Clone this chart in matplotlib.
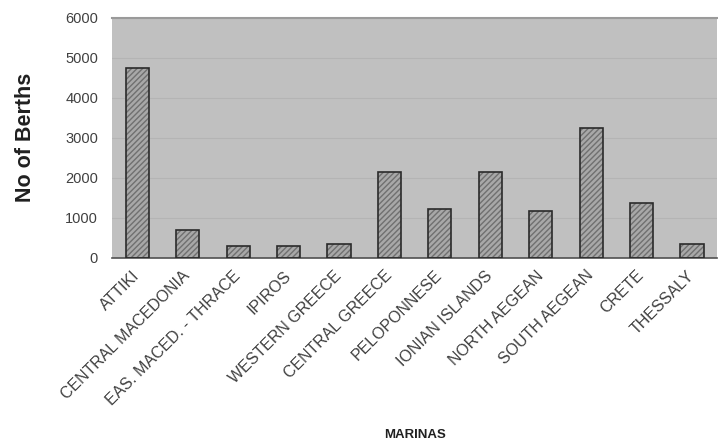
import matplotlib
matplotlib.use('Agg')
import matplotlib.pyplot as plt
import numpy as np

regions = ['ATTIKI', 'CENTRAL MACEDONIA', 'EAS. MACED. - THRACE', 'IPIROS',
           'WESTERN GREECE', 'CENTRAL GREECE', 'PELOPONNESE', 'IONIAN ISLANDS',
           'NORTH AEGEAN', 'SOUTH AEGEAN', 'CRETE', 'THESSALY']
berths = [4750, 700, 300, 300, 350, 2150, 1225, 2150, 1175, 3250, 1375, 350]
yticks = [0, 1000, 2000, 3000, 4000, 5000, 6000]

plt.rcParams['font.family'] = ['Liberation Sans', 'DejaVu Sans']

fig = plt.figure(figsize=(7.18, 4.43), dpi=100)
ax = fig.add_axes([0.156, 0.418, 0.843, 0.542])
ax.set_facecolor('#c0c0c0')

x = np.arange(len(regions))
# hatched fill first, dark outline on top
ax.bar(x, berths, width=0.46, color='#a8a8a8', edgecolor='#707070',
       hatch='//////', linewidth=0, zorder=2)
ax.bar(x, berths, width=0.46, fill=False, edgecolor='#2a2a2a',
       linewidth=1.2, zorder=3)

ax.set_xlim(-0.5, len(regions) - 0.5)
ax.set_ylim(0, 6000)
ax.set_yticks(yticks)
ax.set_yticklabels([str(v) for v in yticks], fontsize=10.5, color='#404040')
ax.yaxis.grid(True, color='#b4b4b4', linewidth=0.8, zorder=0)
ax.set_axisbelow(True)

ax.set_xticks(x)
ax.set_xticklabels(regions, rotation=45, ha='right', va='center',
                   rotation_mode='anchor', fontsize=11.5, color='#404040')
ax.tick_params(axis='y', length=0, pad=10)
ax.tick_params(axis='x', length=0, pad=11)

for side in ['left', 'right']:
    ax.spines[side].set_visible(False)
ax.spines['top'].set_color('#9a9a9a')
ax.spines['top'].set_linewidth(1.5)
ax.spines['bottom'].set_color('#505050')
ax.spines['bottom'].set_linewidth(1.2)

ax.set_ylabel('No of Berths', fontsize=15.5, fontweight='bold', color='#202020',
              labelpad=21)
fig.text(0.578, 0.012, 'MARINAS', fontsize=9.5, fontweight='bold',
         color='#202020', ha='center')

fig.savefig('out.png', dpi=100)
